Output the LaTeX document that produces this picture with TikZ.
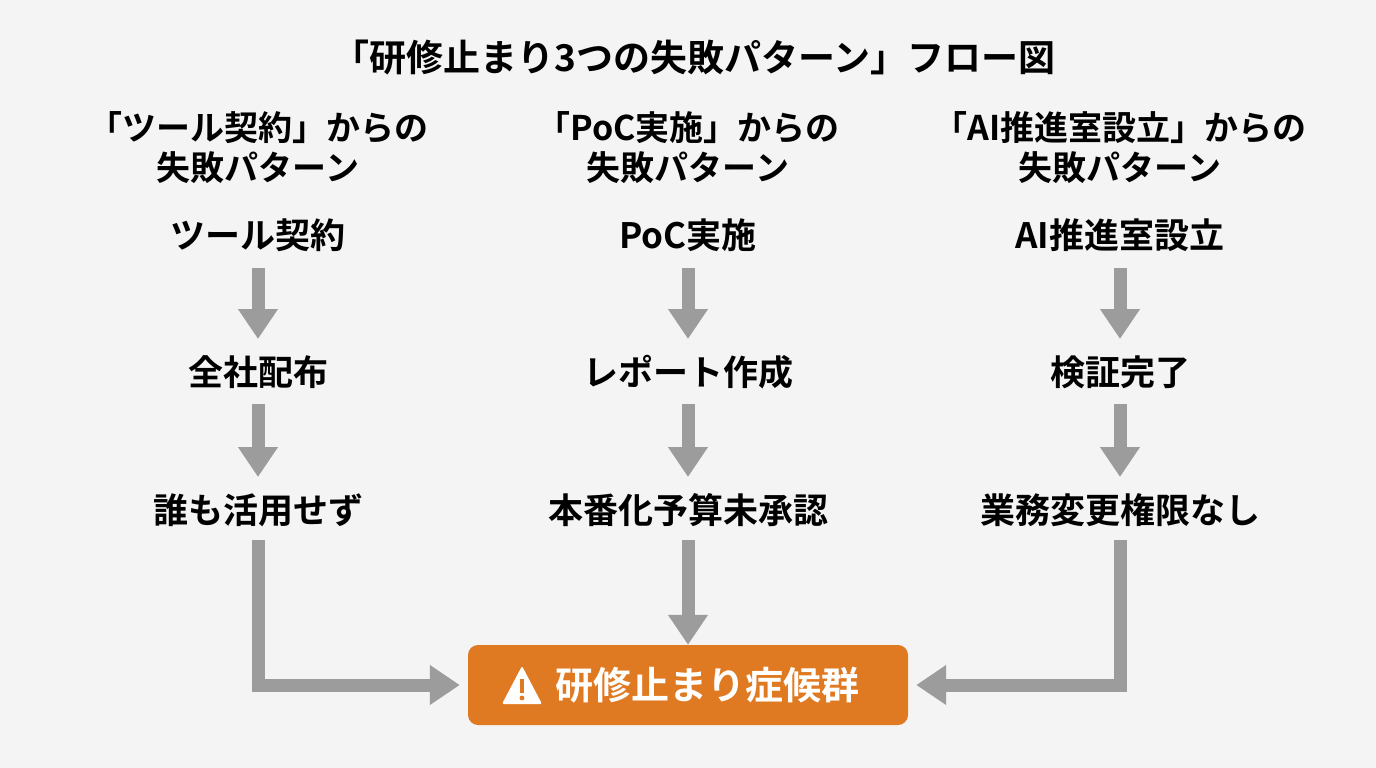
\documentclass[tikz,border=0pt]{standalone}
\usepackage{fontspec}
\setmainfont{Noto Sans CJK JP}[BoldFont={Noto Sans CJK JP Bold}]
\usetikzlibrary{arrows.meta}
\definecolor{bg}{HTML}{F4F4F4}
\definecolor{ar}{HTML}{9C9C9C}
\definecolor{og}{HTML}{E07A22}
\begin{document}
\begin{tikzpicture}[x=1pt,y=-1pt,
 t/.style={font=\bfseries\fontsize{35}{40}\selectfont,align=center,text=black},
 a/.style={draw=ar,line width=13pt,-{Triangle[width=38pt,length=30pt]}}]
\fill[bg] (0,0) rectangle (1376,768);
\useasboundingbox (0,0) rectangle (1376,768);
\node[t,font=\bfseries\fontsize{37}{44}\selectfont] (title) at (694,58) {「研修止まり3つの失敗パターン」フロー図};
\node[t,font=\bfseries\fontsize{34}{40}\selectfont] (h1) at (258,148) {「ツール契約」からの\\失敗パターン};
\node[t,font=\bfseries\fontsize{34}{40}\selectfont] (h2) at (688,148) {「PoC実施」からの\\失敗パターン};
\node[t,font=\bfseries\fontsize{34}{40}\selectfont] (h3) at (1120,148) {「AI推進室設立」からの\\失敗パターン};
\node[t] (a1) at (258,235) {ツール契約};
\node[t] (a2) at (258,372) {全社配布};
\node[t] (a3) at (258,510) {誰も活用せず};
\node[t] (b1) at (688,235) {PoC実施};
\node[t] (b2) at (688,372) {レポート作成};
\node[t] (b3) at (688,510) {本番化予算未承認};
\node[t] (c1) at (1120,235) {AI推進室設立};
\node[t] (c2) at (1120,372) {検証完了};
\node[t] (c3) at (1120,510) {業務変更権限なし};
\node[fill=og,rounded corners=10pt,minimum width=440pt,minimum height=80pt] (end) at (688,685) {};
\node[t,text=white,anchor=west,font=\bfseries\fontsize{38}{44}\selectfont] (et) at (552,685) {研修止まり症候群};
\fill[white,rounded corners=2pt] (502,704) -- (522,666) -- (542,704) -- cycle;
\fill[og] (520,679) rectangle (524,693);
\fill[og] (522,698) circle (2.4);
\foreach \c in {258,688,1120}{
 \draw[a] (\c,268) -- (\c,339);
 \draw[a] (\c,404) -- (\c,477);}
\draw[a] (688,540) -- (end.north);
\coordinate (lc) at (258,685);
\coordinate (rc) at (1120,685);
\draw[a] (258,540) -- (lc) -- ([xshift=-8]end.west);
\draw[a] (1120,540) -- (rc) -- ([xshift=8]end.east);
\end{tikzpicture}
\end{document}
